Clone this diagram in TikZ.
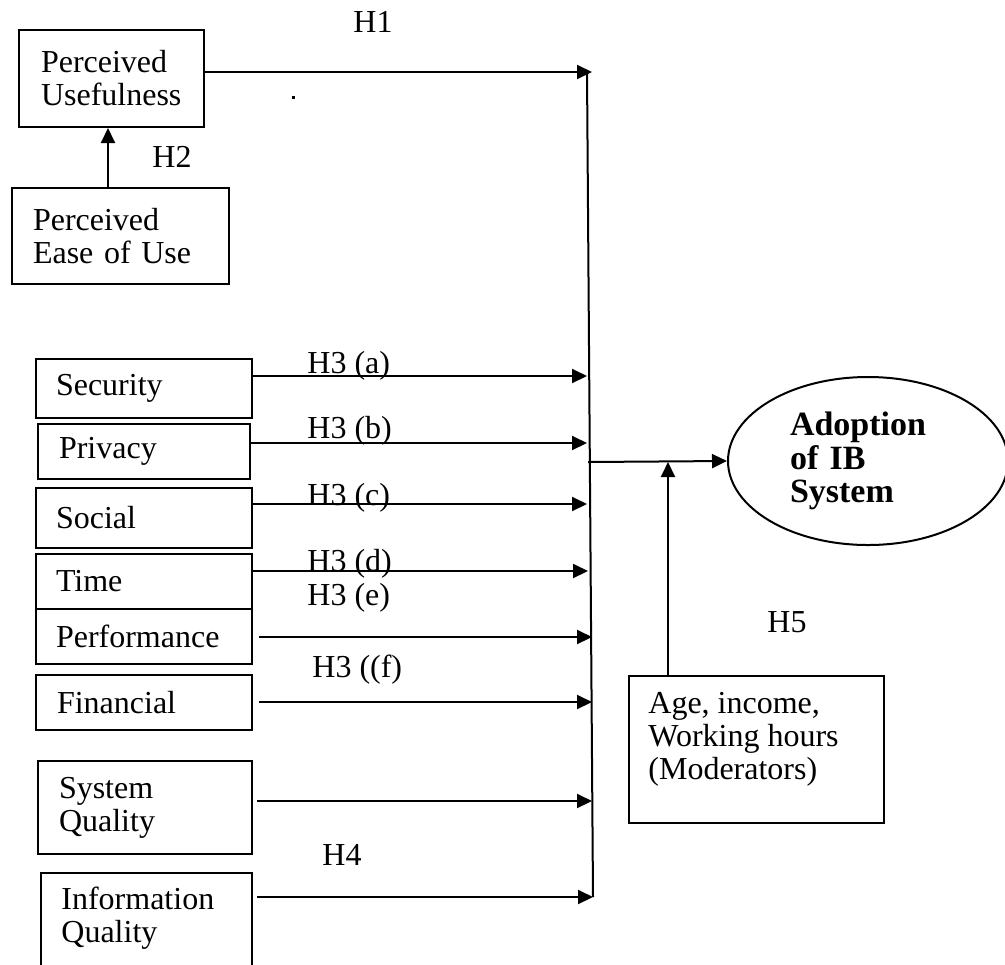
\documentclass[tikz,border=0pt]{standalone}
\usepackage{fontspec}
\setmainfont{Liberation Serif}
\usetikzlibrary{arrows.meta,shapes.geometric}
\tikzset{
  boxline/.style={draw, line width=1pt},
  box/.style={boxline, rectangle, anchor=north west, inner ysep=0pt, align=left},
  arr/.style={line width=1pt, -{Triangle[length=7.5pt,width=7pt]}},
  hlab/.style={anchor=base west, inner sep=0pt},
  plain/.style={anchor=north west, inner sep=0pt, align=left},
}
\begin{document}
\begin{tikzpicture}[x=0.5pt, y=-0.5pt, font=\fontsize{16pt}{16.5pt}\selectfont]
\useasboundingbox (0,0) rectangle (1005,964);

% boxes
\node[box, minimum width=92.5pt, minimum height=48.5pt, inner xsep=11pt, text width=70.5pt] (pu) at (18,29) {Perceived\\Usefulness};
\node[box, minimum width=108.5pt, minimum height=48pt, inner xsep=10.5pt, text width=87.5pt] (peou) at (11,187) {Perceived\\Ease of Use};
\node[box, minimum width=108pt, minimum height=29.5pt, inner xsep=10pt, text width=88pt] (sec) at (35,358) {Security};
\node[box, minimum width=106pt, minimum height=27.5pt, inner xsep=10.5pt, text width=85pt] (pri) at (37,423) {Privacy};
\node[box, minimum width=108pt, minimum height=30pt, inner xsep=10pt, text width=88pt] (soc) at (35,487) {Social};
\node[box, minimum width=108pt, minimum height=27.5pt, inner xsep=10pt, text width=88pt] (tim) at (35,553) {Time};
\node[box, minimum width=108pt, minimum height=27.5pt, inner xsep=10pt, text width=88pt] (per) at (35,608) {Performance};
\node[box, minimum width=108pt, minimum height=27.5pt, inner xsep=10.5pt, text width=87pt] (fin) at (35,674) {Financial};
\node[box, minimum width=107pt, minimum height=46.5pt, inner xsep=10.5pt, text width=86pt] (sq) at (37,760) {System\\Quality};
\node[box, minimum width=105.5pt, minimum height=69pt, inner xsep=10pt, text width=85pt] (iq) at (40,872) {};
\node[plain] (iqt) at (61,887) {Information\\Quality};

\node[box, minimum width=127.5pt, minimum height=73.5pt, inner xsep=10pt, text width=107pt] (mod) at (628,675) {};
\node[plain] (modt) at (648,692) {Age, income,\\Working hours\\(Moderators)};

\node[ellipse, draw, line width=1pt, minimum width=140pt, minimum height=84pt, inner sep=0pt,
      text width=78pt, align=left, font=\fontsize{17pt}{16.75pt}\selectfont\bfseries] (ib) at (868,461) {Adoption\\of IB\\System};

% labels
\node[hlab] (h1) at (353,32) {H1};
\node[hlab] (h2) at (152,167) {H2};
\node[hlab] (h3a) at (307,373) {H3 (a)};
\node[hlab] (h3b) at (307,438) {H3 (b)};
\node[hlab] (h3c) at (307,505) {H3 (c)};
\node[hlab] (h3d) at (307,571) {H3 (d)};
\node[hlab] (h3e) at (307,605) {H3 (e)};
\node[hlab] (h3f) at (312,677) {H3 ((f)};
\node[hlab] (h4) at (322,865) {H4};
\node[hlab] (h5) at (767,632) {H5};

% stray dot
\fill (292,96) rectangle (295,99);

% bus coordinates
\coordinate (btop) at (587,72);
\coordinate (bbot) at (593,897);
\coordinate (bj) at (588,462);
\coordinate (th1) at (592,72);
\coordinate (ta) at (587,376);
\coordinate (tb) at (587,443);
\coordinate (tc) at (587,504);
\coordinate (td) at (588,571);
\coordinate (te) at (592,637);
\coordinate (tf) at (592,702);
\coordinate (tg) at (592,801);
\coordinate (th) at (593,897);

\draw[line width=1pt] (btop) -- (bbot);

% connectors
\draw[arr] ([xshift=-6.25pt]peou.north) -- ([xshift=-6.25pt]peou.north |- pu.south);
\draw[arr] (pu.east |- th1) -- (th1);
\draw[arr] (sec.east |- ta) -- (ta);
\draw[arr] (pri.east |- tb) -- (tb);
\draw[arr] (soc.east |- tc) -- (tc);
\draw[arr] (tim.east |- td) -- (td);
\draw[arr] ([xshift=3pt]per.east |- te) -- (te);
\draw[arr] ([xshift=3pt]fin.east |- tf) -- (tf);
\draw[arr] ([xshift=2pt]sq.east |- tg) -- (tg);
\draw[arr] ([xshift=2pt]iq.east |- th) -- (th);
\draw[arr] (bj) -- (ib.west);
\draw[arr] ([xshift=-44.25pt]mod.north) -- ([xshift=-44.25pt]mod.north |- bj);
\end{tikzpicture}
\end{document}
